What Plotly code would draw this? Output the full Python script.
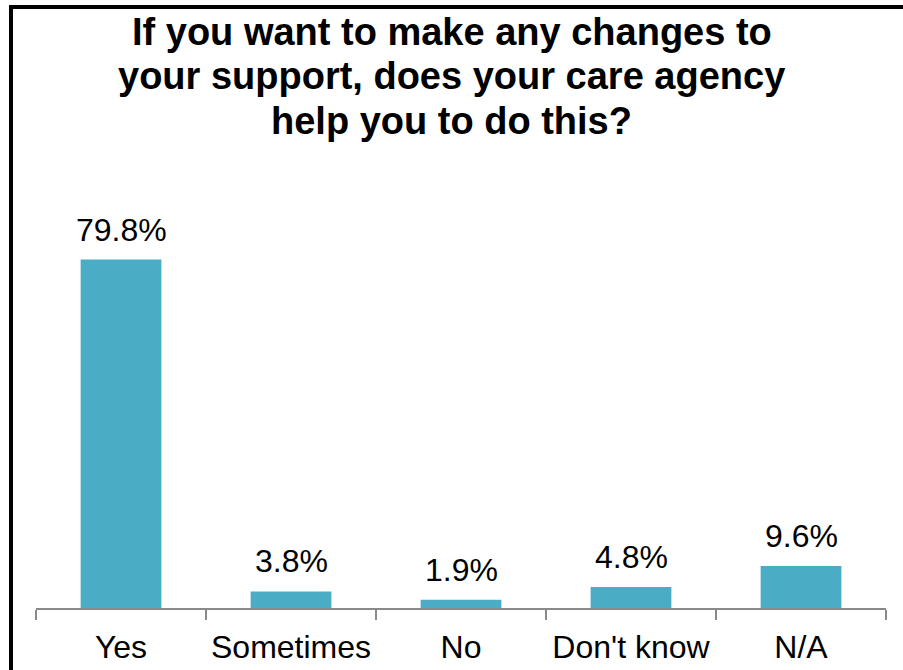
import plotly.graph_objects as go

# Survey responses (percent of respondents)
categories = ["Yes", "Sometimes", "No", "Don't know", "N/A"]
percentages = [79.8, 3.8, 1.9, 4.8, 9.6]
title_lines = [
    "If you want to make any changes to",
    "your support, does your care agency",
    "help you to do this?",
]

W, H = 903, 670
M_L, M_R, M_T, M_B = 36, 17, 215, 62
Y_MAX = 90
plot_h = H - M_T - M_B
BASE_PX = H - M_B  # pixel row of the category axis


def px_to_paper_y(py):
    return (BASE_PX - py) / plot_h


def px_to_paper_x(px):
    return (px - M_L) / (W - M_L - M_R)


BAR_COLOR = "#4BACC6"
FONT = "Liberation Sans, Arial, sans-serif"
LABEL_SIZE = 32

fig = go.Figure(
    go.Bar(
        x=categories,
        y=percentages,
        width=0.475,
        marker=dict(color=BAR_COLOR, line=dict(width=0)),
        hoverinfo="skip",
    )
)

# value labels above each bar
for cat, val in zip(categories, percentages):
    fig.add_annotation(
        x=cat, y=val, xref="x", yref="y",
        text=f"{val:.1f}%",
        showarrow=False, yanchor="bottom", yshift=10,
        font=dict(family=FONT, size=LABEL_SIZE, color="#000000"),
    )

# three-line bold heading, centred on the whole canvas
title_baselines = [46, 90, 135]
title_size = 38
for line, base in zip(title_lines, title_baselines):
    fig.add_annotation(
        x=px_to_paper_x(W / 2), xref="paper",
        y=px_to_paper_y(base + 0.212 * title_size + 1), yref="paper",
        text=f"<b>{line}</b>",
        showarrow=False, xanchor="center", yanchor="bottom",
        font=dict(family=FONT, size=title_size, color="#000000"),
    )

# outer frame (only its top and left edges fall inside the canvas)
fig.add_shape(
    type="rect", xref="paper", yref="paper",
    x0=px_to_paper_x(11), x1=px_to_paper_x(W + 20),
    y0=px_to_paper_y(H + 20), y1=px_to_paper_y(7),
    line=dict(color="#000000", width=4),
    fillcolor="rgba(0,0,0,0)", layer="above",
)

fig.update_layout(
    width=W, height=H,
    margin=dict(l=M_L, r=M_R, t=M_T, b=M_B, pad=0, autoexpand=False),
    paper_bgcolor="#FFFFFF", plot_bgcolor="#FFFFFF",
    showlegend=False,
    bargap=0.525,
    font=dict(family=FONT, color="#000000"),
)
fig.update_xaxes(
    type="category", range=[-0.5, len(categories) - 0.5],
    automargin=False,
    showline=True, linecolor="#898989", linewidth=1.5,
    ticks="outside", tickson="boundaries", ticklen=10, tickwidth=1.5,
    tickcolor="#898989", ticklabelstandoff=10,
    tickfont=dict(family=FONT, size=LABEL_SIZE, color="#000000"),
    showgrid=False, zeroline=False, fixedrange=True,
)
fig.update_yaxes(
    range=[0, Y_MAX], visible=False, showgrid=False, zeroline=False,
    fixedrange=True, automargin=False,
)

fig.write_html("out.html", config={"displayModeBar": False})
